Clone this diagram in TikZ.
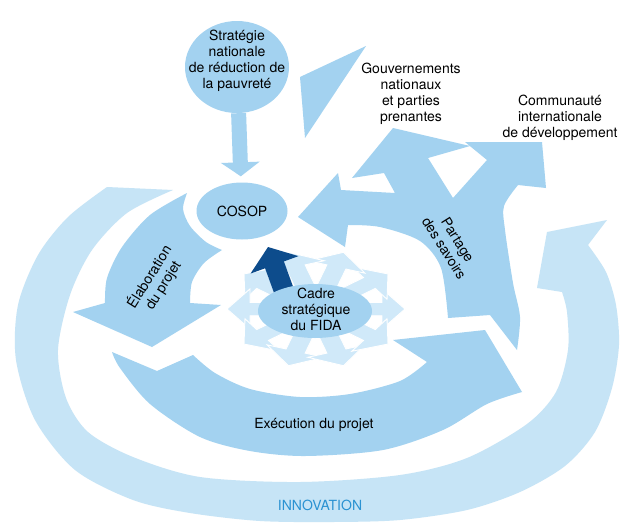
\documentclass[tikz,border=0pt]{standalone}
\usepackage{fontspec}
\setmainfont{TeX Gyre Heros}
\usetikzlibrary{shapes.geometric,arrows.meta}
\definecolor{midblue}{HTML}{A3D2F0}
\definecolor{paleblue}{HTML}{C6E4F6}
\definecolor{faintblue}{HTML}{D0E9F9}
\definecolor{deepblue}{HTML}{0D4C8C}
\definecolor{innoblue}{HTML}{2A92D2}
\begin{document}
\begin{tikzpicture}[x=1pt,y=-1pt,
  lbl/.style={align=center, font=\fontsize{14}{16}\selectfont, text=black, inner sep=0pt},
  bubble/.style={ellipse, fill=midblue, inner sep=0pt},
  band/.style={fill=midblue},
  ring/.style={fill=paleblue},
  spoke/.style={fill=faintblue, draw=white, line width=0.9pt, line join=miter}]
\useasboundingbox (0,0) rectangle (621,523);
\fill[white] (0,0) rectangle (621,523);

% outer innovation ring
\path[ring] (107,187) -- (173,190)
  -- plot[smooth] coordinates {(173,190) (127,213) (92,250) (70,295) (58,350) (66,398) (88,432) (133,457) (200,477) (300,482) (400,475) (467,458) (527,424) (556,392) (568,350) (567,312) (562,292)}
  -- (537,288) -- (547,232) -- (607,220) -- (588,245)
  -- plot[smooth] coordinates {(588,245) (606,272) (616,305) (619,345) (612,388) (595,432) (565,466) (520,492) (467,510) (400,520) (333,522) (260,521) (190,513) (133,500) (75,470) (35,420) (16,360) (18,305) (38,255) (68,217) (107,187)}
  -- cycle;

% project design arrow
\path[band] plot[smooth] coordinates {(187,193) (183,209) (190,226) (206,242) (222,250)}
  -- plot[smooth] coordinates {(222,250) (204,263) (192,282) (190,303)}
  -- (221,305) -- (152,347) -- (73,312) -- (105,303)
  -- plot[smooth] coordinates {(105,303) (107,278) (122,247) (150,215) (187,193)}
  -- cycle;

% project execution arrow
\path[band] (112,352) -- (157,371) -- (193,355)
  -- plot[smooth] coordinates {(193,355) (215,373) (250,389) (300,397) (350,394) (400,381) (427,362)}
  -- (393,340) -- (485,330) -- (522,392)
  -- plot[smooth] coordinates {(522,392) (487,404) (443,430) (383,450) (305,456) (250,451) (200,437) (150,404) (120,368) (112,352)}
  -- cycle;

% knowledge sharing, three-headed arrow
\path[band] (298,217) -- (338,173) -- (341,190) -- (395,193) -- (384,173) -- (352,178)
  -- (393,128) -- (470,146) -- (428,158) -- (453,198) -- (487,160) -- (465,142)
  -- (542,142) -- (546,188) -- (518,185)
  -- plot[smooth] coordinates {(518,185) (504,206) (505,230) (513,283) (520,317) (517,350)}
  -- (490,315) -- (448,318)
  -- plot[smooth] coordinates {(448,318) (441,268) (420,241) (380,227) (348,225)}
  -- (345,247) -- cycle;

% arrowhead near the stakeholders
\path[band] (300,77) -- (366,46) -- (305,138) -- cycle;

% strategy and COSOP
\node[bubble, minimum width=104pt, minimum height=92pt] (strat) at (237,67) {};
\node[bubble, minimum width=91pt, minimum height=57pt] (cosop) at (242,211) {};
\draw[midblue, line width=15pt, -{Triangle[length=14pt 0 0, width=38pt 0 0]}, shorten >=6pt] (strat) -- (cosop);

% radiating arrows around the corporate framework
\begin{scope}[shift={(316,309)}, yscale=0.67]
  \foreach \a in {0,36,...,324}
    \path[spoke, rotate=\a] (0,-10) -- (66,-10) -- (66,-30) -- (89,0) -- (66,30) -- (66,10) -- (0,10) -- cycle;
\end{scope}
\coordinate (dbase) at (288,302);
\coordinate (dtip) at (268,247);
\draw[deepblue, line width=20pt, -{Triangle[length=19pt 0 0, width=50pt 0 0]}] (dbase) -- (dtip);
\node[bubble, lbl, minimum width=114pt, minimum height=54pt] (cadre) at (315,311) {};

% labels
\node[lbl] (cadretxt) at (316,309) {Cadre\\stratégique\\du FIDA};
\node[lbl] (strattxt) at (237,61) {Stratégie\\nationale\\de réduction de\\la pauvreté};
\node[lbl] (cosoptxt) at (242,211) {COSOP};
\node[lbl] (gouv) at (411,94) {Gouvernements\\nationaux\\et parties\\prenantes};
\node[lbl] (commu) at (560,118) {Communauté\\internationale\\de développement};
\node[lbl, rotate=58] (elab) at (156,281) {Élaboration\\du projet};
\node[lbl, rotate=-58] (partage) at (451,244) {Partage\\des savoirs};
\node[lbl] (exec) at (314,425) {Exécution du projet};
\node[lbl, text=innoblue] (innov) at (320,505) {INNOVATION};
\end{tikzpicture}
\end{document}
